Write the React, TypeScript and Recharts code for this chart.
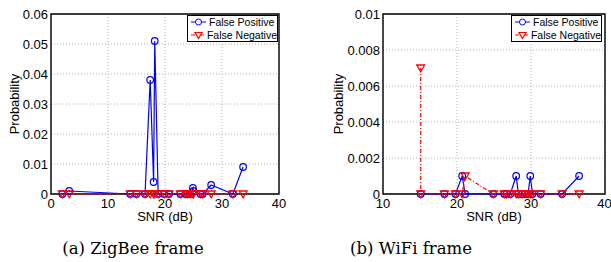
import React from "react";
import { LineChart, Line, XAxis, YAxis, CartesianGrid, ReferenceArea, Legend } from "recharts";

// (a) ZigBee frame
const snrA = [2.0, 3.2, 13.9, 15.0, 16.5, 17.4, 18.0, 18.2, 18.8, 19.9, 20.7, 22.7, 23.6, 24.0, 24.4, 24.9, 25.0, 26.2, 26.6, 28.1, 31.9, 33.7];
const fpA = [0, 0.001, 0, 0, 0, 0.038, 0.004, 0.051, 0, 0, 0, 0, 0, 0, 0, 0.002, 0.001, 0, 0, 0.003, 0, 0.009];
const fnA = [0, 0, 0, 0, 0, 0, 0, 0, 0, 0, 0, 0, 0, 0, 0, 0, 0, 0, 0, 0, 0, 0];

// (b) WiFi frame
const snrB = [15.1, 18.3, 19.8, 20.7, 21.1, 24.9, 26.4, 26.7, 27.2, 28.0, 28.3, 28.8, 29.2, 29.6, 29.9, 30.2, 31.3, 34.2, 36.5];
const fpB = [0, 0, 0, 0.001, 0, 0, 0, 0, 0, 0.001, 0, 0, 0, 0, 0.001, 0, 0, 0, 0.001];
const snrFnB = [15.1, 15.1, 18.3, 19.8, 20.7, 21.1, 24.9, 26.4, 26.7, 27.2, 28.0, 28.3, 28.8, 29.2, 29.6, 29.9, 30.2, 31.3, 34.2, 36.5];
const fnB = [0.007, 0, 0, 0, 0, 0.001, 0, 0, 0, 0, 0, 0, 0, 0, 0, 0, 0, 0, 0, 0];

const xTicksA = [0, 10, 20, 30, 40];
const yTicksA = [0, 0.01, 0.02, 0.03, 0.04, 0.05, 0.06];
const xTicksB = [10, 20, 30, 40];
const yTicksB = [0, 0.002, 0.004, 0.006, 0.008, 0.01];

const BLUE = "#0000ff";
const RED = "#ff0000";
const SANS = "'Liberation Sans', Arial, sans-serif";
const tickStyle = { fontSize: 13, fill: "#000", fontFamily: SANS };

const zip = (xs: number[], ys: number[]) => xs.map((x, i) => ({ x, y: ys[i] }));

const Circle = (p: any) =>
  p.cx == null ? null : <circle key={p.index} cx={p.cx} cy={p.cy} r={3.3} fill="none" stroke={BLUE} strokeWidth={1.2} />;

const Tri = (p: any) =>
  p.cx == null ? null : (
    <polygon
      key={p.index}
      points={`${p.cx - 4},${p.cy - 3} ${p.cx + 4},${p.cy - 3} ${p.cx},${p.cy + 3.8}`}
      fill="none"
      stroke={RED}
      strokeWidth={1.3}
    />
  );

function LegendBox() {
  const row = (kind: "fp" | "fn", text: string) => (
    <div style={{ display: "flex", alignItems: "center", height: 12.5 }}>
      <svg width={17} height={10} style={{ marginLeft: 2 }}>
        <line x1={1} x2={16} y1={5} y2={5} stroke={kind === "fp" ? BLUE : RED} strokeDasharray={kind === "fp" ? undefined : "4 2 1 2"} />
        {kind === "fp" ? (
          <circle cx={8.5} cy={5} r={3} fill="#fff" stroke={BLUE} />
        ) : (
          <polygon points="5,2.5 12,2.5 8.5,8.5" fill="#fff" stroke={RED} strokeWidth={1.2} />
        )}
      </svg>
      <span style={{ marginLeft: 2, whiteSpace: "nowrap" }}>{text}</span>
    </div>
  );
  return (
    <div
      style={{
        border: "1px solid #000",
        background: "#fff",
        width: 89,
        height: 25,
        fontFamily: SANS,
        fontSize: 10.5,
        color: "#000",
        lineHeight: "12px",
        boxSizing: "content-box",
      }}
    >
      {row("fp", "False Positive")}
      {row("fn", "False Negative")}
    </div>
  );
}

interface PanelProps {
  left: number;
  width: number;
  margin: { top: number; right: number; bottom: number; left: number };
  yWidth: number;
  yLabelDx: number;
  xDomain: [number, number];
  yDomain: [number, number];
  xTicks: number[];
  yTicks: number[];
  fp: { x: number; y: number }[];
  fn: { x: number; y: number }[];
  legendLeft: number;
}

function Panel(props: PanelProps) {
  const { margin, xDomain, yDomain } = props;
  return (
    <div style={{ position: "absolute", left: props.left, top: 0 }}>
      <LineChart width={props.width} height={225} margin={margin}>
        <CartesianGrid stroke="#b0b0b0" strokeDasharray="1 2" />
        <ReferenceArea x1={xDomain[0]} x2={xDomain[1]} y1={yDomain[0]} y2={yDomain[1]} stroke="#000" strokeWidth={1.4} fill="none" fillOpacity={0} />
        <XAxis
          dataKey="x"
          type="number"
          domain={xDomain}
          ticks={props.xTicks}
          axisLine={false}
          tickLine={false}
          tickSize={0}
          tickMargin={5}
          height={30}
          tick={tickStyle}
          label={{
            content: (lp: any) => (
              <text x={lp.viewBox.x + lp.viewBox.width / 2} y={lp.viewBox.y + 27} textAnchor="middle" fontSize={13} fontFamily={SANS} fill="#000">
                SNR (dB)
              </text>
            ),
          }}
        />
        <YAxis
          dataKey="y"
          type="number"
          domain={yDomain}
          ticks={props.yTicks}
          axisLine={false}
          tickLine={false}
          tickSize={0}
          tickMargin={3}
          width={props.yWidth}
          tick={tickStyle}
          tickFormatter={(v: number) => String(v)}
          label={{
            content: (lp: any) => {
              const cx = lp.viewBox.x + props.yLabelDx;
              const cy = lp.viewBox.y + lp.viewBox.height / 2;
              return (
                <text x={cx} y={cy} transform={`rotate(-90 ${cx} ${cy})`} textAnchor="middle" fontSize={13} fontFamily={SANS} fill="#000">
                  Probability
                </text>
              );
            },
          }}
        />
        <Legend
          layout="vertical"
          align="center"
          verticalAlign="middle"
          content={() => <LegendBox />}
          wrapperStyle={{ position: "absolute", left: props.legendLeft, top: 15, width: 91, height: 27 }}
        />
        <Line data={props.fp} dataKey="y" name="False Positive" stroke={BLUE} strokeWidth={1.2} dot={Circle} activeDot={false} isAnimationActive={false} />
        <Line data={props.fn} dataKey="y" name="False Negative" stroke={RED} strokeWidth={1.2} strokeDasharray="4 2 1 2" dot={Tri} activeDot={false} isAnimationActive={false} />
      </LineChart>
    </div>
  );
}

export default function App() {
  return (
    <div style={{ position: "absolute", left: 0, top: 0, width: 611, height: 262, background: "#fff", overflow: "hidden" }}>
      <Panel
        left={0}
        width={300}
        margin={{ top: 14, right: 21, bottom: 1, left: 11 }}
        yWidth={40}
        yLabelDx={7.5}
        xDomain={[0, 40]}
        yDomain={[0, 0.06]}
        xTicks={xTicksA}
        yTicks={yTicksA}
        fp={zip(snrA, fpA)}
        fn={zip(snrA, fnA)}
        legendLeft={187}
      />
      <Panel
        left={305}
        width={306}
        margin={{ top: 14, right: 6, bottom: 1, left: 28 }}
        yWidth={50}
        yLabelDx={9.5}
        xDomain={[10, 40]}
        yDomain={[0, 0.01]}
        xTicks={xTicksB}
        yTicks={yTicksB}
        fp={zip(snrB, fpB)}
        fn={zip(snrFnB, fnB)}
        legendLeft={511 - 305}
      />
      <svg width={611} height={262} style={{ position: "absolute", left: 0, top: 0, pointerEvents: "none" }}>
        <text x={133} y={254} textAnchor="middle" fontSize={16.5} fontFamily="'DejaVu Serif', serif" fill="#000">
          (a) ZigBee frame
        </text>
        <text x={411} y={254} textAnchor="middle" fontSize={16.5} fontFamily="'DejaVu Serif', serif" fill="#000">
          (b) WiFi frame
        </text>
      </svg>
    </div>
  );
}
